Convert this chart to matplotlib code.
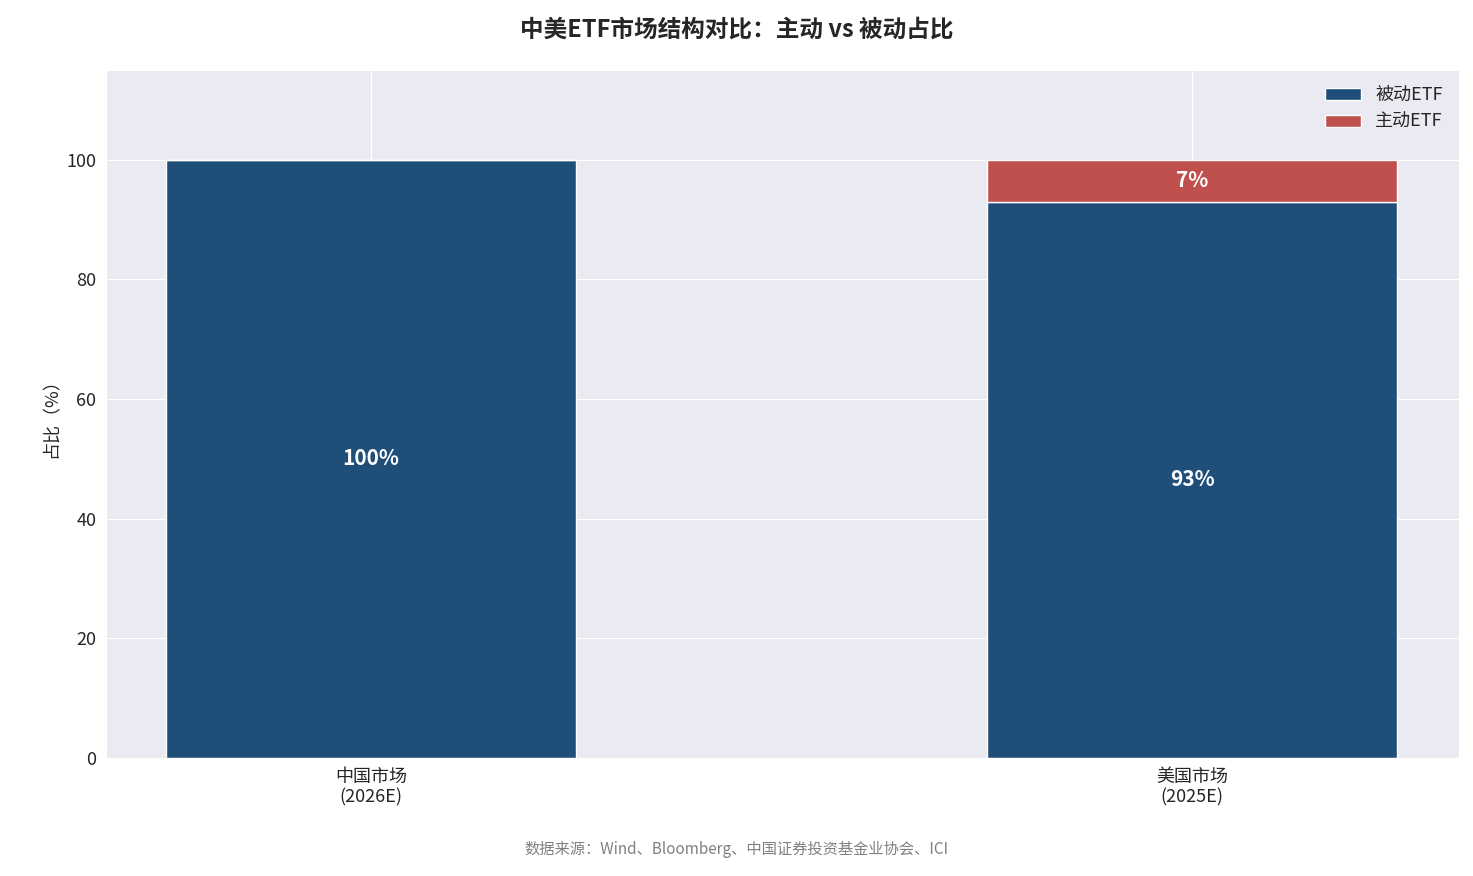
import matplotlib
matplotlib.use("Agg")
import matplotlib.pyplot as plt
import seaborn as sns

categories = ["中国市场\n(2026E)", "美国市场\n(2025E)"]
passive = [100, 93]
active = [0, 7]

sns.set_style("darkgrid")
plt.rcParams['font.family'] = ['Noto Sans CJK SC', 'DejaVu Sans']
plt.rcParams['axes.unicode_minus'] = False

fig = plt.figure(figsize=(14.73, 8.76), dpi=100)
ax = fig.add_axes([106/1473, 1-758/876, 1353/1473, 688/876])
x = list(range(len(categories)))
ax.bar(x, passive, width=0.5, color="#1f4e79", edgecolor="white", linewidth=1, label="被动ETF")
ax.bar(x, active, width=0.5, bottom=passive, color="#c0504d", edgecolor="white", linewidth=1, label="主动ETF")
for i in x:
    ax.text(i, passive[i]/2, f"{passive[i]}%", ha="center", va="center", color="white", fontsize=15, fontweight="bold")
    if active[i] > 0:
        ax.text(i, passive[i]+active[i]/2, f"{active[i]}%", ha="center", va="center", color="white", fontsize=15, fontweight="bold")
ax.set_xlim(-0.323, 1.325)
ax.set_ylim(0, 115)
ax.set_yticks([0, 20, 40, 60, 80, 100])
ax.set_xticks(x)
ax.set_xticklabels(categories, fontsize=13)
ax.tick_params(axis='y', labelsize=13)
ax.set_ylabel("占比（%）", fontsize=13)
ax.legend(loc="upper right", fontsize=13, frameon=False)
fig.text(0.5, 1-30/876, "中美ETF市场结构对比：主动 vs 被动占比", ha="center", va="center", fontsize=17, fontweight="bold")
fig.text(0.5, 1-850/876, "数据来源：Wind、Bloomberg、中国证券投资基金业协会、ICI", ha="center", va="center", fontsize=11, color="gray")
fig.savefig("out.png", dpi=100)
